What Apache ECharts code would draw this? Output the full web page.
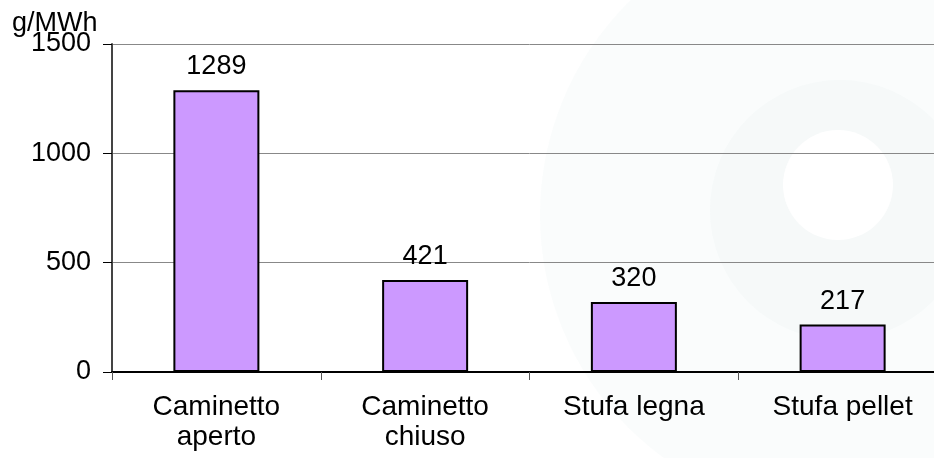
<!DOCTYPE html>
<html>
<head>
<meta charset="utf-8">
<script src="https://cdn.jsdelivr.net/npm/echarts@6/dist/echarts.min.js"></script>
<style>
html,body{margin:0;padding:0;background:#fff;overflow:hidden;width:934px;height:458px;}
#chart{width:950px;height:458px;}
</style>
</head>
<body>
<div id="chart"></div>
<script>
const categories = ['Caminetto\naperto', 'Caminetto\nchiuso', 'Stufa legna', 'Stufa pellet'];
const values = [1289, 421, 320, 217];
const yTicks = [0, 500, 1000, 1500];
const unitLabel = 'g/MWh';

const FONT = '"Liberation Sans", Arial, sans-serif';
const chart = echarts.init(document.getElementById('chart'), null, {renderer: 'canvas'});
chart.setOption({
  backgroundColor: '#ffffff',
  animation: false,
  graphic: [
    {type: 'circle', z: -10, silent: true, shape: {cx: 840, cy: 215, r: 300},
     style: {fill: 'rgba(225,234,238,0.16)'}},
    {type: 'circle', z: -9, silent: true, shape: {cx: 840, cy: 210, r: 130},
     style: {fill: 'rgba(232,238,242,0.2)'}},
    {type: 'circle', z: -8, silent: true, shape: {cx: 838, cy: 185, r: 55},
     style: {fill: '#ffffff'}},
    {type: 'text', left: 12, top: 10, z: 10,
     style: {text: unitLabel, font: '27px ' + FONT, fill: '#000'}}
  ],
  grid: {left: 112, top: 44, width: 835, height: 328, containLabel: false},
  xAxis: {
    type: 'category',
    data: categories,
    boundaryGap: true,
    axisLine: {show: true, lineStyle: {color: '#000', width: 2}},
    axisTick: {show: true, length: 8, lineStyle: {color: '#555', width: 1}},
    axisLabel: {color: '#000', fontSize: 28, fontFamily: FONT, margin: 20, lineHeight: 30, interval: 0}
  },
  yAxis: {
    type: 'value',
    min: yTicks[0],
    max: yTicks[yTicks.length - 1],
    interval: yTicks[1] - yTicks[0],
    axisLine: {show: true, lineStyle: {color: '#444', width: 2}},
    axisTick: {show: true, length: 9, lineStyle: {color: '#000', width: 1}},
    axisLabel: {color: '#000', fontSize: 27, fontFamily: FONT, margin: 21, formatter: v => String(v)},
    splitLine: {show: true, lineStyle: {color: '#888', width: 1}}
  },
  series: [{
    type: 'bar',
    data: values,
    barWidth: 86,
    itemStyle: {color: '#CC99FF', borderColor: '#000', borderWidth: 2},
    label: {show: true, position: 'top', distance: 10, color: '#000', fontSize: 27, fontFamily: FONT}
  }]
});
</script>
</body>
</html>
